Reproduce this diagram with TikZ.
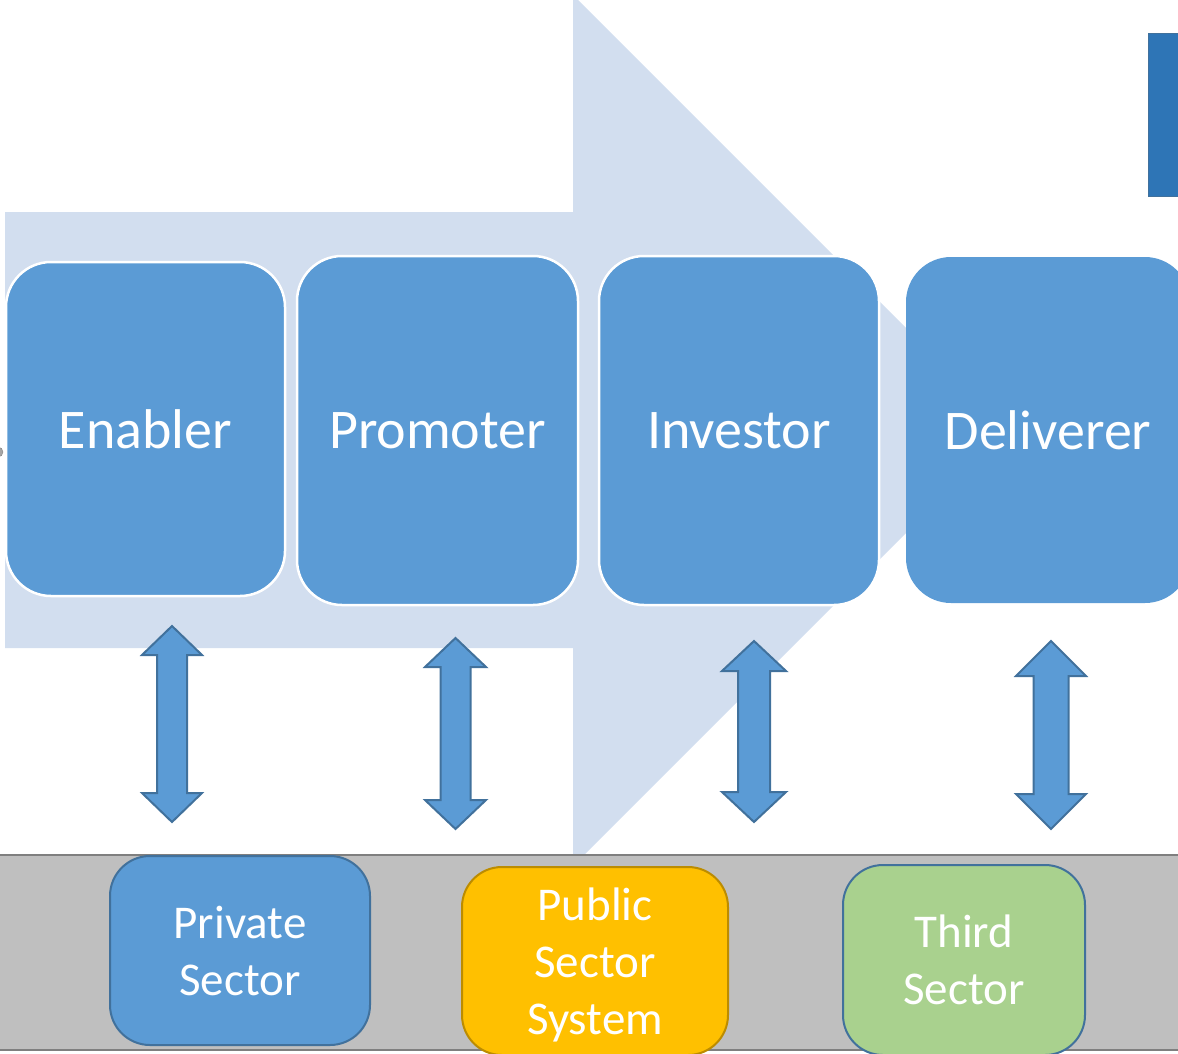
\documentclass[tikz,border=0pt]{standalone}
\usepackage{fontspec}
\setmainfont{Carlito}
\definecolor{arrowbg}{HTML}{D2DEEF}
\definecolor{boxblue}{HTML}{5B9BD5}
\definecolor{boxedge}{HTML}{41719C}
\definecolor{bandgray}{HTML}{BFBFBF}
\definecolor{bandedge}{HTML}{7F7F7F}
\definecolor{pubfill}{HTML}{FFC000}
\definecolor{pubedge}{HTML}{BC8C00}
\definecolor{thirdfill}{HTML}{A9D18E}
\definecolor{darkblue}{HTML}{2E75B6}
\newcommand\dbarrow[6]{% cx top bot halfhead halfshaft headheight
  \draw[dblarrowstyle] (#1,#2) -- ({#1+#4},{#2+#6}) -- ({#1+#5},{#2+#6}) -- ({#1+#5},{#3-#6})
    -- ({#1+#4},{#3-#6}) -- (#1,#3) -- ({#1-#4},{#3-#6}) -- ({#1-#5},{#3-#6})
    -- ({#1-#5},{#2+#6}) -- ({#1-#4},{#2+#6}) -- cycle;}
\tikzset{
  rolebox/.style={draw=white, line width=2.5pt, fill=boxblue, rounded corners=45pt,
    text=white, font=\fontsize{56}{66}\selectfont, inner sep=0pt},
  sectorbox/.style={line width=2pt, rounded corners=40pt, text=white,
    font=\fontsize{47}{57}\selectfont, align=center, inner sep=0pt},
  dblarrowstyle/.style={fill=boxblue, draw=boxedge, line width=2pt, line join=miter},
}
\begin{document}
\begin{tikzpicture}[x=1pt,y=-1pt]
\useasboundingbox (0,0) rectangle (1178,1053);
\clip (0,0) rectangle (1178,1053);
% big background arrow
\fill[arrowbg] (5,212) -- (573,212) -- (573,-5) -- (1008.5,430.5) -- (573,866) -- (573,648) -- (5,648) -- cycle;
% small grey mark at left edge
\draw[fill=gray!70, draw=gray] (-2,452) circle (5);
% role boxes
\node[rolebox, minimum width=279pt, minimum height=334pt] (enabler) at (145.5,429) {Enabler};
\node[rolebox, minimum width=281pt, minimum height=349pt] (promoter) at (437.5,430.5) {Promoter};
\node[rolebox, minimum width=280pt, minimum height=349pt] (investor) at (739,430.5) {Investor};
\node[rolebox, draw=none, minimum width=284pt, minimum height=346pt] (deliverer) at (1048,430) {Deliverer};
% double arrows
\dbarrow{172}{626}{822}{30}{15}{29}
\dbarrow{455.5}{638}{829}{30.5}{15}{29}
\dbarrow{754}{641}{822}{32}{16}{30}
\dbarrow{1051}{641}{829}{35}{17.5}{35}
% grey band
\node[draw=bandedge, line width=2pt, fill=bandgray, minimum width=1190pt, minimum height=195pt, inner sep=0pt] (band) at (589,952.5) {};
% sector boxes
\node[sectorbox, draw=boxedge, fill=boxblue, minimum width=260pt, minimum height=189pt] (private) at (240,950.5) {Private\\Sector};
\node[sectorbox, draw=pubedge, fill=pubfill, minimum width=266pt, minimum height=188pt] (public) at (595,961) {};
\node[text=white, font=\fontsize{47}{57}\selectfont, align=center, inner sep=0pt] (publictext) at (595,965) {Public\\Sector\\System};
\node[sectorbox, draw=boxedge, fill=thirdfill, minimum width=242pt, minimum height=190pt] (third) at (964,960) {Third\\Sector};
% top-right dark blue rectangle
\node[draw=boxedge, line width=1pt, fill=darkblue, minimum width=40pt, minimum height=163pt, inner sep=0pt] (topright) at (1168,114.5) {};
\end{tikzpicture}
\end{document}
